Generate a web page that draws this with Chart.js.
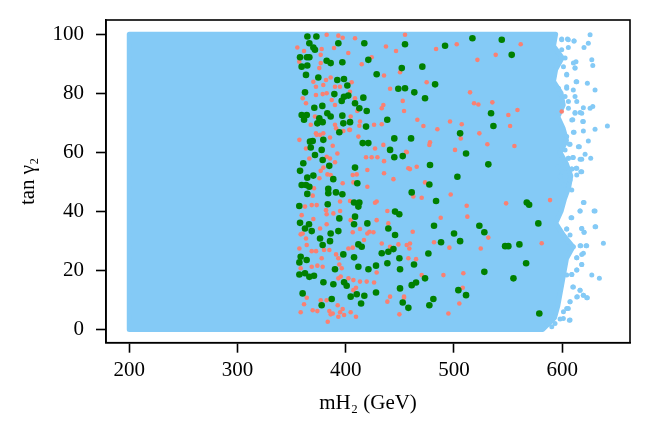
<!DOCTYPE html>
<html>
<head>
<meta charset="utf-8">
<script src="https://cdn.jsdelivr.net/npm/chart.js@4/dist/chart.umd.min.js"></script>
<style>
html,body{margin:0;padding:0;background:#fff;}
#wrap{width:650px;height:435px;}
</style>
</head>
<body>
<div id="wrap"><canvas id="c" width="650" height="435"></canvas></div>
<script>
const xTicks = [200, 300, 400, 500, 600];
const yTicks = [0, 20, 40, 60, 80, 100];

const blueLeft = 200, blueTop = 100, blueBottom = 0;
const blueEdgeY = [100, 96, 92, 88, 84, 80, 76, 72, 68, 64, 60, 56, 52, 48, 44, 40, 36, 32, 28, 24, 20, 16, 12, 8, 4, 0];
const blueEdgeX = [594, 592, 600, 594, 592, 599, 601, 596, 601, 604, 598, 604, 608, 606, 602, 599, 594, 601, 610, 604, 602, 600, 598, 596, 593, 582];

const blueX = [625.8,624.2,620.2,611.0,605.7,599.6,605.7,627.4,628.3,612.8,611.9,604.2,623.3,613.5,630.4,610.3,604.2,596.5,613.5,628.3,625.8,618.1,611.9,608.9,619.6,641.8,630.4,619.6,611.0,624.2,607.3,615.9,621.2,626.4,618.1,610.3,605.7,613.5,608.9,618.1,599.6,
  620.2,630.4,616.5,608.2,631.0,618.1,604.2,620.2,638.1,622.1,617.2,619.6,613.5,618.1,613.5,627.4,634.4,608.9,609.8,616.5,619.6,623.3,614.0,607.3,605.7,607.3,601.1,
  599.6,604.9,611.0,599.6,602.7,610.4,611.9,601.2,604.2,612.9,604.2,596.5,602.7,611.9,605.8,619.6,605.8,616.6,611.9,609.8,619.0,610.4,604.2,606.7,615.0,602.7,616.6,609.8,605.8,612.9,608.9,617.2,600.5,596.5,598.1,
  607.3,613.5,601.2,608.9,619.6,629.5,616.6,608.9,630.4,618.1,604.2,620.3,607.3,622.7,616.6,610.4,618.1,613.5,618.1,613.5,608.9,604.2,610.4,616.6,619.6,622.7,613.5,607.3,604.2,601.2,606.7,598.1,593.4,590.4];
const blueY = [99.8,96.9,95.5,97.7,98.1,98.1,95.5,91.3,89.4,90.7,88.5,86.4,83.4,83.9,81.1,81.1,81.7,81.7,77.2,75.5,74.9,73.2,73.2,70.9,70.4,68.9,67.8,67.2,66.8,63.8,62.7,61.9,59.3,58.0,57.6,58.2,58.0,54.6,54.3,53.4,53.4,
  43.0,40.1,40.1,37.8,34.8,34.2,34.0,32.9,29.2,28.3,28.3,25.8,24.3,22.0,20.1,18.4,17.3,18.6,14.4,13.3,11.6,10.7,11.1,9.4,7.1,3.2,3.7,
  98.4,98.4,97.7,94.7,91.9,90.2,88.5,89.0,86.2,83.9,82.2,81.4,78.9,78.9,77.2,75.1,74.9,73.5,73.5,71.0,70.4,66.8,65.3,62.7,61.9,60.8,57.6,58.2,58.0,54.6,54.3,53.4,53.4,55.1,51.7,
  50.6,52.3,48.9,47.2,43.0,40.1,40.1,37.8,34.8,34.2,34.0,32.9,32.0,28.3,28.3,28.0,25.4,24.3,22.0,20.1,18.6,18.4,14.4,13.3,11.6,10.7,11.0,9.4,7.1,6.0,3.1,3.5,2.0,0.9];

const salmonX = [382.4,393.2,397.2,408.6,454.8,355.3,361.5,377.8,376.9,389.2,402.4,437.2,446.5,450.2,376.9,375.6,414.8,424.0,357.1,435.4,370.1,372.5,379.3,381.8,386.1,390.1,394.7,405.5,404.0,382.4,378.7,372.5,441.0,360.3,363.3,387.1,390.1,408.6,410.7,404.6,434.8,433.3,452.7,453.9,367.7,371.6,390.1,403.3,413.2,412.6,426.2,433.3,372.5,379.3,397.8,
  357.2,363.3,373.2,376.3,385.5,388.0,392.3,391.1,404.0,411.7,427.1,434.8,418.8,424.0,429.3,435.4,455.8,457.9,366.4,382.4,385.5,390.1,379.4,376.9,383.1,386.1,375.7,370.7,369.5,368.6,373.2,381.8,382.4,388.6,394.8,397.2,407.1,406.5,410.2,420.0,420.0,435.4,444.1,428.6,427.1,438.5,428.6,439.4,420.0,406.5,413.2,404.6,370.1,359.3,376.3,382.4,360.2,394.8,404.0,362.4,
  358.4,363.3,364.0,357.2,368.6,372.6,380.0,384.9,391.1,393.2,394.1,396.3,402.5,406.5,416.9,421.9,425.6,433.3,441.0,448.7,456.4,457.9,377.8,373.8,378.7,368.6,358.4,393.2,395.4,402.5,407.1,413.2,409.5,407.1,419.4,426.2,441.0,438.5,453.9,449.6,428.6,376.9,382.4,361.5,364.0,358.4,369.5,373.8,384.9,388.0,393.2,394.8,398.5,392.6,397.2,404.6,409.5,383.4,386.1,
  483.5,502.6,561.7,521.7,538.6,474.8,514.9,518.6,522.6,535.5,550.3,558.7,466.2,471.8,496.4,507.2,484.7,523.5,551.9,477.9,477.3,506.3,530.9,555.9,501.0,456.4,459.4,465.6,
  473.3,462.5,470.2,497.0,511.8,487.8,512.4,548.2,531.8,461.9,481.6,495.8,524.8,459.4,458.8,465.0,470.2,490.3,508.7,508.1,453.9,505.0,494.9,
  599.6,588.8,581.1];
const salmonY = [99.8,99.5,98.8,98.6,99.8,95.5,94.3,95.0,93.0,95.3,93.6,95.8,94.3,87.1,90.2,88.5,89.8,92.2,90.7,86.0,83.9,82.2,82.8,84.5,85.3,82.2,82.2,83.7,80.5,80.0,79.7,79.4,81.5,78.3,76.6,77.7,76.0,78.3,74.0,72.1,76.0,74.9,77.4,74.0,69.3,72.1,69.3,67.6,70.4,69.0,69.3,69.5,66.4,66.4,67.2,
  64.2,61.3,65.9,65.9,65.0,62.2,59.6,68.1,67.6,65.3,61.3,62.5,58.3,58.3,58.3,57.0,60.2,54.6,57.9,58.5,57.9,56.6,54.8,53.7,52.5,52.3,51.2,47.8,45.3,42.1,42.1,40.4,39.0,39.3,40.1,49.5,49.8,52.3,52.5,54.0,48.3,52.9,50.9,43.3,42.9,40.1,37.0,35.9,32.5,32.9,34.0,37.0,37.4,38.7,34.2,35.6,32.5,43.3,43.5,41.6,
  32.2,30.8,28.6,27.4,26.5,26.5,26.9,26.9,25.4,24.1,22.0,20.7,27.4,27.7,30.3,33.1,32.9,29.1,28.0,28.8,28.6,24.1,24.1,21.6,21.2,21.2,20.7,17.3,17.9,17.3,16.7,16.2,14.1,13.3,16.2,15.9,11.1,9.4,11.1,5.1,19.3,9.9,9.9,8.5,10.7,5.8,6.5,6.2,6.2,5.4,4.3,5.8,4.9,8.2,6.9,5.8,4.3,2.6,5.1,
  95.0,96.6,96.6,91.3,93.0,83.7,80.3,76.6,76.2,76.9,72.6,74.3,71.0,68.9,70.4,69.5,67.8,66.4,68.9,63.4,62.5,64.7,62.7,62.1,60.8,60.0,54.3,55.1,
  49.8,45.0,44.6,45.7,41.9,37.8,38.2,42.7,31.1,33.1,29.5,27.7,27.4,29.1,27.4,23.8,18.4,18.4,19.0,14.1,10.7,8.8,5.4,
  73.8,43.8,29.2];

const greenX = [364.6,372.9,366.4,370.1,371.6,357.8,364.2,366.4,393.2,417.2,454.8,359.3,364.5,382.4,386.1,396.9,420.9,363.3,374.7,392.2,398.4,401.5,428.6,451.8,448.6,454.8,362.4,389.5,398.4,402.4,396.3,416.3,408.6,412.6,419.4,371.0,378.4,359.3,364.0,361.5,375.6,373.8,378.7,383.0,386.1,396.9,397.8,404.0,394.1,418.8,438.4,
  367.0,369.5,379.3,367.7,377.8,371.6,378.7,360.8,384.8,357.8,364.5,370.1,359.3,363.3,366.4,364.5,388.5,383.9,383.9,391.0,396.9,408.6,410.7,415.7,420.9,444.9,441.0,444.9,452.7,407.7,412.6,411.7,383.4,357.1,394.1,408.6,407.7,420.0,357.8,362.4,366.1,368.6,386.1,393.2,439.4,445.6,449.5,
  376.3,385.5,378.7,411.7,414.8,445.6,358.4,363.9,357.2,397.8,407.7,433.3,439.4,444.1,449.6,438.5,411.7,421.0,428.0,390.1,450.2,357.2,362.4,366.4,370.7,379.4,388.6,398.5,400.9,360.2,428.0,410.2,404.6,417.2,387.1,377.8,414.2,450.2,452.7,457.9,
  491.8,517.1,544.2,553.4,470.8,463.4,482.6,473.3,534.3,536.5,505.7,460.4,511.2,477.9,531.8,503.2,
  477.3,461.0,483.5,481.6,500.1,523.5,528.1,505.7,488.1,547.3,550.3,560.5,476.4,463.1,566.7,567.3,569.5,528.1,555.0,473.3,465.0,461.0,504.1,511.2,481.0,477.3,578.0,578.9];
const greenY = [99.2,99.2,96.9,95.5,94.7,92.2,92.2,92.2,96.9,96.9,96.6,89.0,89.4,91.0,90.2,90.5,91.3,86.2,85.3,84.5,84.8,82.6,86.4,88.5,81.5,81.7,80.3,79.7,78.8,79.2,77.4,78.5,76.6,74.9,74.0,75.1,75.7,72.6,72.6,71.0,71.5,69.8,70.2,73.2,72.1,72.4,69.8,70.2,66.8,68.7,71.0,
  63.6,63.8,64.2,61.6,60.8,59.1,57.4,56.3,55.4,53.7,51.4,52.1,48.9,48.9,48.3,45.9,50.9,47.6,46.1,46.4,45.8,54.8,49.5,63.1,63.1,64.7,60.8,58.3,58.7,43.0,43.0,41.6,42.4,41.8,37.6,38.2,35.6,35.9,36.1,34.2,35.6,33.3,32.5,33.3,34.2,39.9,39.0,
  30.8,29.9,28.6,28.8,28.0,32.0,24.6,23.5,22.7,25.4,24.4,25.8,26.3,27.2,24.1,22.4,21.2,20.4,21.6,20.4,20.4,18.6,19.0,17.8,18.2,16.0,15.3,16.0,14.8,12.2,12.5,11.9,11.1,11.4,10.3,8.2,8.8,13.9,9.1,7.3,
  96.1,98.6,98.1,93.0,89.0,80.3,83.0,78.3,73.2,68.9,66.4,64.7,59.6,55.7,55.9,51.7,
  49.1,46.4,43.5,35.1,32.5,35.1,32.9,29.9,29.5,28.2,28.2,28.8,25.7,22.0,22.4,43.0,42.2,19.5,17.3,17.3,15.9,15.0,13.3,11.6,10.3,8.2,35.9,5.4];

const BLUE = '#84CAF6', SALMON = '#FA8072', GREEN = '#008000';
const FONT = "'Liberation Serif', 'DejaVu Serif', serif";

function pts(xs, ys) { return xs.map((x, i) => ({ x: x, y: ys[i] })); }

const bluePolygon = [{ x: blueLeft, y: blueBottom }, { x: blueLeft, y: blueTop }]
  .concat(pts(blueEdgeX, blueEdgeY))
  .concat([{ x: blueLeft, y: blueBottom }]);

const framePlugin = {
  id: 'frame',
  afterDatasetsDraw(chart) {
    const a = chart.chartArea, ctx = chart.ctx;
    ctx.save();
    ctx.strokeStyle = '#000';
    ctx.lineWidth = 1.6;
    ctx.strokeRect(a.left, a.top, a.right - a.left, a.bottom - a.top);
    ctx.restore();
  }
};

new Chart(document.getElementById('c'), {
  type: 'scatter',
  data: {
    datasets: [
      { label: 'green', data: pts(greenX, greenY), backgroundColor: GREEN, borderWidth: 0, pointRadius: 3.3, order: 0 },
      { label: 'salmon', data: pts(salmonX, salmonY), backgroundColor: SALMON, borderWidth: 0, pointRadius: 2.3, order: 1 },
      { label: 'blue', data: pts(blueX, blueY), backgroundColor: BLUE, borderWidth: 0, pointRadius: 2.5, order: 2 },
      { label: 'blueRegion', data: bluePolygon, showLine: true, fill: 'shape', backgroundColor: BLUE, borderColor: BLUE,
        borderWidth: 5, borderJoinStyle: 'round', borderCapStyle: 'round', pointRadius: 0, tension: 0, order: 3 }
    ]
  },
  options: {
    responsive: false,
    animation: false,
    devicePixelRatio: 1,
    layout: { padding: { left: 0, right: 20, top: 20, bottom: 0 } },
    plugins: { legend: { display: false }, tooltip: { enabled: false } },
    scales: {
      x: {
        type: 'linear', min: 178.5, max: 662.7,
        afterBuildTicks: (ax) => { ax.ticks = xTicks.map(v => ({ value: v })); },
        afterFit: (ax) => { ax.height = 92.3; ax.paddingLeft = 0; ax.paddingRight = 0; },
        grid: { display: true, drawOnChartArea: false, drawTicks: true, tickLength: 10, tickColor: '#000', tickWidth: 1.6 },
        border: { display: true, color: '#000', width: 1.6 },
        ticks: { color: '#000', font: { family: FONT, size: 21 }, padding: 5, maxRotation: 0 },
        title: { display: true, text: 'mH₂ (GeV)', color: '#000', font: { family: FONT, size: 21 }, padding: { top: 0, bottom: 19 } }
      },
      y: {
        type: 'linear', min: -4.5, max: 104.8,
        afterBuildTicks: (ax) => { ax.ticks = yTicks.map(v => ({ value: v })); },
        afterFit: (ax) => { ax.width = 106; ax.paddingTop = 0; ax.paddingBottom = 0; },
        grid: { display: true, drawOnChartArea: false, drawTicks: true, tickLength: 10, tickColor: '#000', tickWidth: 1.6 },
        border: { display: true, color: '#000', width: 1.6 },
        ticks: { color: '#000', font: { family: FONT, size: 21 }, padding: 12 },
        title: { display: true, text: 'tan γ₂', color: '#000', font: { family: FONT, size: 21 }, padding: { top: 16, bottom: 0 } }
      }
    }
  },
  plugins: [framePlugin]
});
</script>
</body>
</html>
